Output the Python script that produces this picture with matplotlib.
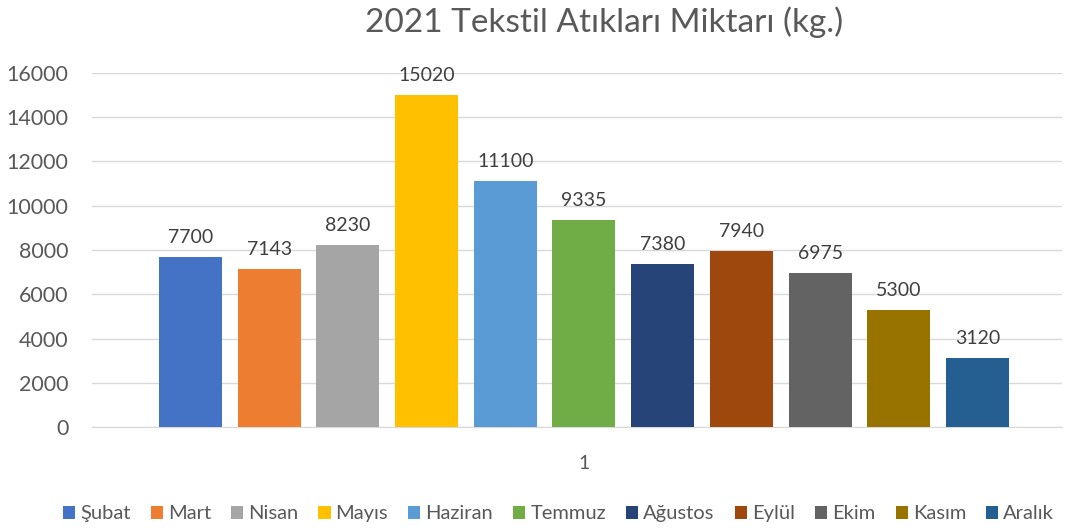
import matplotlib.pyplot as plt

months = ['Şubat', 'Mart', 'Nisan', 'Mayıs', 'Haziran', 'Temmuz', 'Ağustos',
          'Eylül', 'Ekim', 'Kasım', 'Aralık']
amounts = [7700, 7143, 8230, 15020, 11100, 9335, 7380, 7940, 6975, 5300, 3120]
colors = ['#4472C4', '#ED7D31', '#A5A5A5', '#FFC000', '#5B9BD5', '#70AD47',
          '#264478', '#9E480E', '#636363', '#997300', '#255E91']
yticks = [0, 2000, 4000, 6000, 8000, 10000, 12000, 14000, 16000]

plt.rcParams['font.family'] = ['Lato', 'DejaVu Sans']

fig = plt.figure(figsize=(10.66, 5.30), dpi=100)
ax = fig.add_axes([0.0863, 0.1943, 0.9097, 0.668])

for i, (m, v, c) in enumerate(zip(months, amounts, colors)):
    ax.bar(i, v, width=0.8, color=c, label=m, zorder=3)
    ax.text(i, v + 500, str(v), ha='center', va='bottom', fontsize=14, color='#404040')

ax.set_xlim(-1.25, 11.07)
ax.set_ylim(0, 16000)
ax.set_yticks(yticks)
ax.set_yticklabels([str(t) for t in yticks], fontsize=15.5, color='#595959')
ax.set_xticks([5])
ax.set_xticklabels(['1'], fontsize=14, color='#595959')
ax.tick_params(axis='both', length=0)
ax.tick_params(axis='y', pad=17)
ax.tick_params(axis='x', pad=20)
ax.grid(axis='y', color='#D9D9D9', linewidth=1, zorder=0)
for s in ['top', 'right', 'left']:
    ax.spines[s].set_visible(False)
ax.spines['bottom'].set_color('#D9D9D9')

fig.text(0.567, 0.958, '2021 Tekstil Atıkları Miktarı (kg.)', ha='center', va='center',
         fontsize=24, color='#595959')

fig.legend(loc='lower center', bbox_to_anchor=(0.524, -0.02), ncol=11, frameon=False,
           fontsize=14.5, handlelength=0.6, handleheight=0.6, handletextpad=0.25,
           columnspacing=1.0, labelcolor='#595959')

fig.savefig('out.png', dpi=100)
